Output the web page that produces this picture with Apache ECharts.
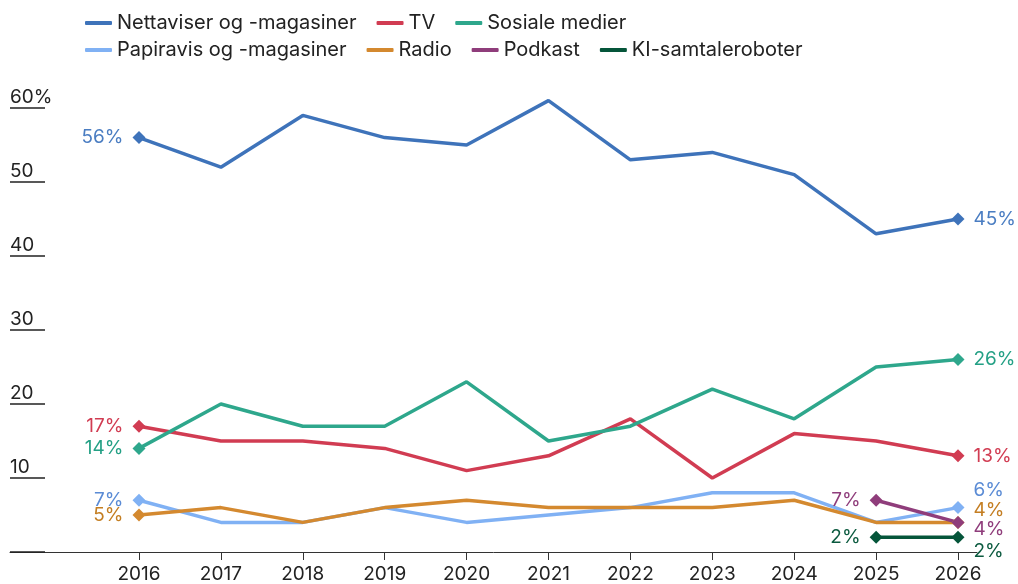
<!DOCTYPE html>
<html>
<head>
<meta charset="utf-8">
<script src="https://cdn.jsdelivr.net/npm/echarts@6/dist/echarts.min.js"></script>
<style>
  html, body { margin: 0; padding: 0; background: #fff; }
  #chart { width: 1018px; height: 584px; }
</style>
</head>
<body>
<div id="chart"></div>
<script>
// data
const years = [2016, 2017, 2018, 2019, 2020, 2021, 2022, 2023, 2024, 2025, 2026];
const nettaviser = [56, 52, 59, 56, 55, 61, 53, 54, 51, 43, 45];
const tv = [17, 15, 15, 14, 11, 13, 18, 10, 16, 15, 13];
const sosiale = [14, 20, 17, 17, 23, 15, 17, 22, 18, 25, 26];
const papiravis = [7, 4, 4, 6, 4, 5, 6, 8, 8, 4, 6];
const radio = [5, 6, 4, 6, 7, 6, 6, 6, 7, 4, 4];
const podkast = [null, null, null, null, null, null, null, null, null, 7, 4];
const ki = [null, null, null, null, null, null, null, null, null, 2, 2];
const yTicks = [0, 10, 20, 30, 40, 50, 60];

const FONT = 'Inter';

const chart = echarts.init(document.getElementById('chart'));

// name, values, line colour, label colour, offset of the last label
const defs = [
    ['Nettaviser og -magasiner', nettaviser, '#3e73ba', '#4a7dc2', [0, 0]],
    ['TV', tv, '#d13c52', '#d13c52', [0, 0]],
    ['Sosiale medier', sosiale, '#2ea78c', '#24a085', [0, 0]],
    ['Papiravis og -magasiner', papiravis, '#80b1f4', '#5a8bd5', [0, -17]],
    ['Radio', radio, '#d4892f', '#c47e22', [0, -12]],
    ['Podkast', podkast, '#8f3d7b', '#8f3d7b', [0, 7]],
    ['KI-samtaleroboter', ki, '#05553a', '#0b5a3f', [0, 14]]
];

function makeSeries([name, values, color, labelColor, lastOffset]) {
    const idx = values.map((v, i) => v == null ? -1 : i).filter(i => i >= 0);
    const first = idx[0], last = idx[idx.length - 1];
    const data = values.map((v, i) => {
        if (v == null) return null;
        const item = { value: [years[i], v] };
        if (i === first) {
            item.label = { show: true, position: 'left', distance: 9 };
        } else if (i === last) {
            item.label = { show: true, position: 'right', distance: 9, offset: lastOffset };
        } else {
            item.symbol = 'none';
        }
        return item;
    });
    return {
        name: name,
        type: 'line',
        data: data,
        clip: false,
        symbol: 'diamond',
        symbolSize: 13,
        showAllSymbol: true,
        connectNulls: false,
        lineStyle: { color: color, width: 3.5 },
        itemStyle: { color: color },
        label: {
            show: false,
            color: labelColor,
            fontFamily: FONT,
            fontSize: 19,
            formatter: p => p.value[1] + '%'
        },
        emphasis: { disabled: true },
        animation: false
    };
}

const legendBase = {
    left: 80,
    icon: 'roundRect',
    itemWidth: 27,
    itemHeight: 4,
    itemGap: 20,
    textStyle: { fontFamily: FONT, fontSize: 20, color: '#222' }
};

chart.setOption({
    backgroundColor: '#fff',
    animation: false,
    legend: [
        Object.assign({}, legendBase, { top: 8, data: defs.slice(0, 3).map(d => d[0]) }),
        Object.assign({}, legendBase, { top: 35, data: defs.slice(3).map(d => d[0]) })
    ],
    grid: { left: 10, right: 41, top: 108, bottom: 31 },
    xAxis: {
        type: 'value',
        min: 2014.425,
        max: 2026.232,
        axisLine: { show: true, lineStyle: { color: '#333', width: 1 } },
        axisTick: { show: true, customValues: years, length: 8, lineStyle: { color: '#333' } },
        axisLabel: {
            customValues: years,
            formatter: v => String(v),
            margin: 13,
            fontFamily: FONT,
            fontSize: 19,
            color: '#222'
        },
        splitLine: { show: false }
    },
    yAxis: {
        type: 'value',
        min: 0,
        max: 60,
        interval: 10,
        axisLine: { show: false },
        axisTick: {
            show: true,
            inside: true,
            length: 35,
            customValues: yTicks,
            lineStyle: { color: '#222', width: 1.5 }
        },
        axisLabel: {
            inside: true,
            margin: 0,
            align: 'left',
            verticalAlign: 'bottom',
            padding: [0, 0, 1, 0],
            fontFamily: FONT,
            fontSize: 19,
            color: '#222',
            formatter: v => v === 0 ? '' : (v === 60 ? v + '%' : String(v))
        },
        splitLine: { show: false }
    },
    series: defs.map(makeSeries)
});
</script>
</body>
</html>
